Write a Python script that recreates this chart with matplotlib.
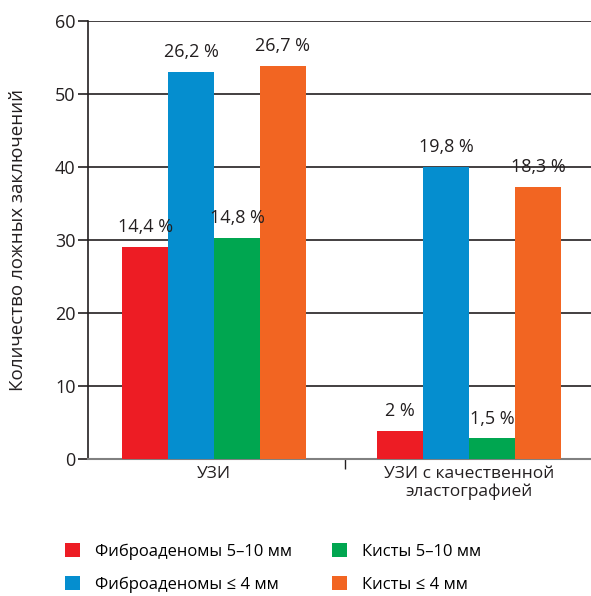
import numpy as np
import matplotlib
matplotlib.use("Agg")
import matplotlib.pyplot as plt

plt.rcParams['font.family'] = ['Open Sans', 'DejaVu Sans']

groups = ["УЗИ", "УЗИ с качественной\nэластографией"]
series = ["Фиброаденомы 5–10 мм", "Фиброаденомы ≤ 4 мм", "Кисты 5–10 мм", "Кисты ≤ 4 мм"]
colors = ["#ED1C24", "#058ECF", "#00A650", "#F26522"]
values = [
    [29.0, 3.8],
    [53.0, 40.0],
    [30.2, 2.8],
    [53.8, 37.2],
]
labels = [
    ["14,4 %", "2 %"],
    ["26,2 %", "19,8 %"],
    ["14,8 %", "1,5 %"],
    ["26,7 %", "18,3 %"],
]

fig = plt.figure(figsize=(5.91, 5.96), dpi=100)
ax = fig.add_axes([0.149, 0.23, 0.851, 0.735])

x = np.arange(len(groups))
w = 0.18
for i in range(4):
    pos = x + (i - 1.5) * w
    ax.bar(pos, values[i], w, color=colors[i], label=series[i], zorder=3)
    for p, v, t in zip(pos, values[i], labels[i]):
        ax.text(p, v + 1.5, t, ha="center", va="bottom", fontsize=13, color="#231F20", zorder=4)

ax.set_ylim(0, 60)
ax.set_xlim(-0.494, 1.478)
ax.set_yticks(range(0, 61, 10))
ax.yaxis.grid(True, color="#231F20", linewidth=1.2, zorder=0)
ax.tick_params(axis="y", length=7, width=1.2, color="#231F20", labelsize=13, pad=2, labelcolor="#231F20")

ax.set_xticks(x)
ax.set_xticklabels(groups, fontsize=12.5, color="#231F20", linespacing=1.1)
ax.tick_params(axis="x", length=0, pad=5)
ax.set_xticks([0.514], minor=True)
ax.tick_params(axis="x", which="minor", length=7, width=1, color="#231F20")

for s in ["top", "right"]:
    ax.spines[s].set_visible(False)
ax.spines["left"].set_color("#231F20")
ax.spines["left"].set_linewidth(1.2)
ax.spines["bottom"].set_color("#808080")
ax.spines["bottom"].set_linewidth(1.5)

ax.set_ylabel("Количество ложных заключений", fontsize=13.5, color="#231F20", labelpad=20)

fig.legend(loc="lower left", bbox_to_anchor=(0.085, -0.02), ncol=2, frameon=False,
           fontsize=12, handlelength=0.9, handleheight=0.9, columnspacing=2.4,
           labelspacing=1.0, handletextpad=0.9)

fig.savefig("out.png", dpi=100)
